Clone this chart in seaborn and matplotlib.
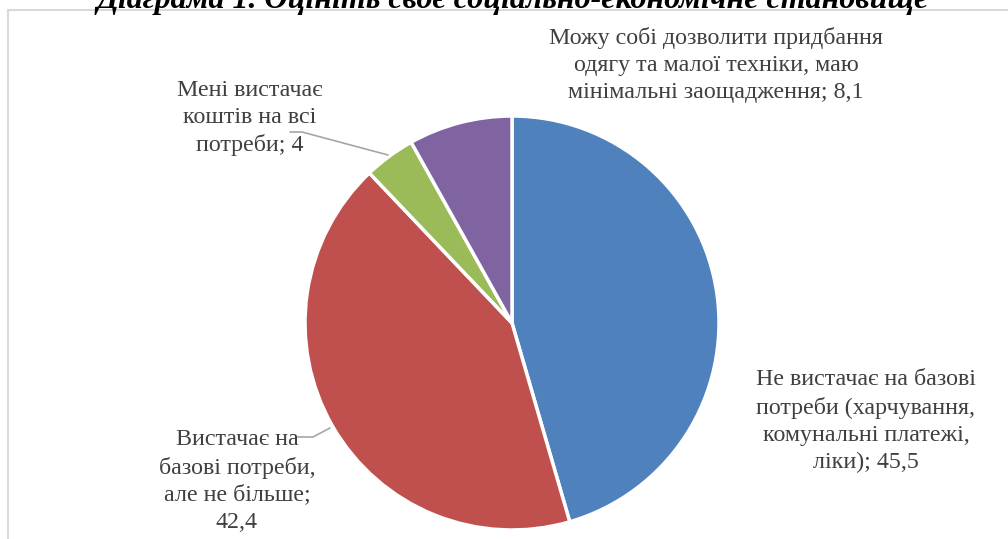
import matplotlib.pyplot as plt
import matplotlib.patches as mpatches
import seaborn as sns

# Дані діаграми
labels = [
    "Не вистачає на базові\nпотреби (харчування,\nкомунальні платежі,\nліки); 45,5",
    "Вистачає на\nбазові потреби,\nале не більше;\n42,4",
    "Мені вистачає\nкоштів на всі\nпотреби; 4",
    "Можу собі дозволити придбання\nодягу та малої техніки, маю\nмінімальні заощадження; 8,1",
]
values = [45.5, 42.4, 4.0, 8.1]
colors = ["#4F81BD", "#C0504D", "#9BBB59", "#8064A2"]
title = "Діаграма 1. Оцініть своє соціально-економічне становище"

sns.set_theme(style="white")
plt.rcParams['font.family'] = ['Liberation Serif', 'DejaVu Serif']

W, H = 1008, 539
fig = plt.figure(figsize=(W / 100, H / 100), dpi=100)
ax = fig.add_axes([0, 0, 1, 1])

ax.pie(values, colors=sns.color_palette(colors), startangle=90, counterclock=False,
       center=(512, H - 323), radius=207,
       wedgeprops=dict(edgecolor="white", linewidth=2.5), frame=True)
ax.set_xlim(0, W)
ax.set_ylim(0, H)
ax.set_aspect('equal')
ax.axis('off')

# рамка області діаграми
frame = mpatches.Rectangle((8, -5), W + 10, H - 10 + 5, fill=False,
                           edgecolor="#D9D9D9", linewidth=1.5, zorder=0)
ax.add_patch(frame)

# підписи
txt = dict(ha="center", va="center", fontsize=17.3, color="#404040", linespacing=1.37)
label_pos = [(866, 421), (237, 481), (250, 118), (716, 65)]
for lab, (x, y) in zip(labels, label_pos):
    ax.text(x, H - y, lab, **txt)

# лінії-виноски
ax.plot([290, 302, 388], [H - 132, H - 132, H - 155], color="#A6A6A6", lw=1.2)
ax.plot([297, 313, 330], [H - 437, H - 437, H - 428], color="#A6A6A6", lw=1.2)

ax.text(513, H - 8, title, ha="center", va="baseline", fontsize=23,
        fontweight="bold", fontstyle="italic", color="black")

fig.savefig("out.png", dpi=100)
